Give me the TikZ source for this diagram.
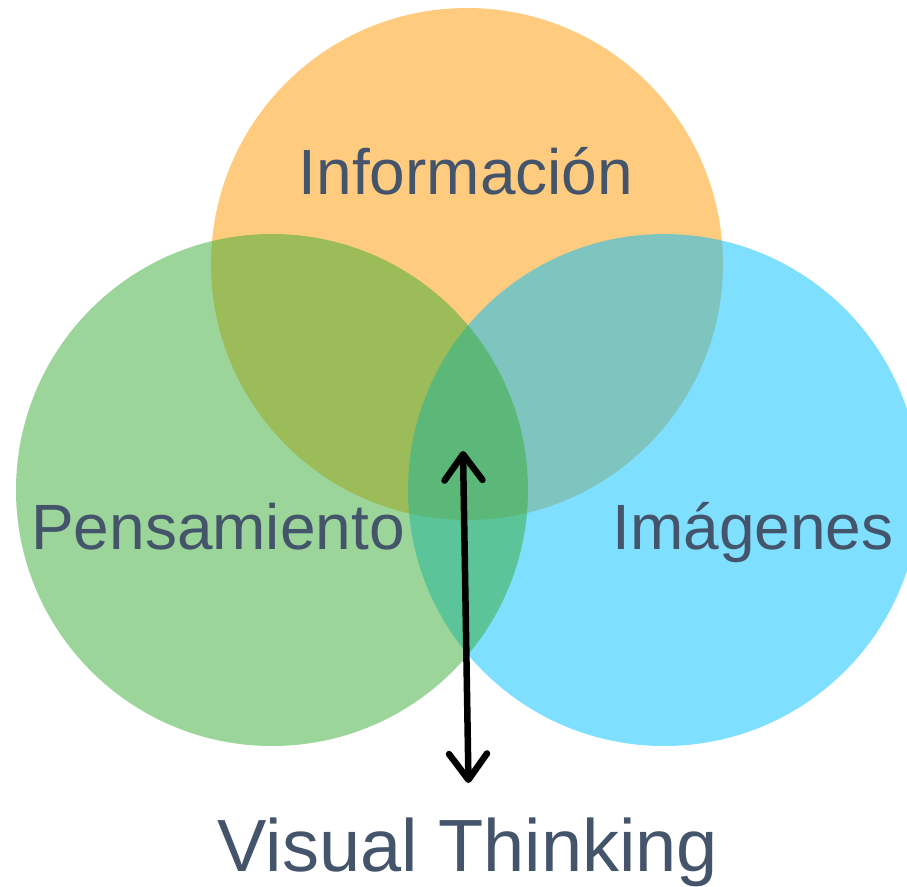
\documentclass[tikz,border=0pt]{standalone}
\usepackage{fontspec}
\setmainfont{Liberation Sans}
\usetikzlibrary{arrows.meta}
\definecolor{infoorange}{HTML}{FF9900}
\definecolor{imgblue}{HTML}{00BFFF}
\definecolor{pensgreen}{HTML}{39AB33}
\definecolor{labelgray}{HTML}{44546A}
\newcommand{\bubble}[4]{\fill[bubblefill, #1] ( #2 , #3 ) circle (#4);}
\tikzset{
  bubblefill/.style={fill opacity=0.5},
  setlabel/.style={text=labelgray, anchor=base, inner sep=0pt, font=\fontsize{64}{70}\selectfont},
  mainlabel/.style={setlabel, font=\fontsize{74}{80}\selectfont},
  twoway/.style={line width=6.5pt, {Straight Barb[length=26pt,width=38pt,round]}-{Straight Barb[length=26pt,width=38pt,round]}}
}

\begin{document}
\begin{tikzpicture}[x=1pt, y=-1pt]
        \useasboundingbox (0,0) rectangle (907,886);
        \clip (0,0) rectangle (907,886);
        % circles
        \bubble{infoorange}{467}{264}{256pt}
        \bubble{imgblue}{664}{490}{256pt}
        \bubble{pensgreen}{272}{490}{256pt}
        % labels
        \node[setlabel] (info) at (466,194) {Información};
        \node[setlabel] (pens) at (218,549) {Pensamiento};
        \node[setlabel] (imgs) at (753,549) {Imágenes};
        \node[mainlabel] (visual) at (468,871) {Visual Thinking};
        % arrow
        \coordinate (up) at (463,451);
        \coordinate (down) at (468.5,783);
        \draw[twoway] (down) -- (up);
    \end{tikzpicture}
\end{document}
